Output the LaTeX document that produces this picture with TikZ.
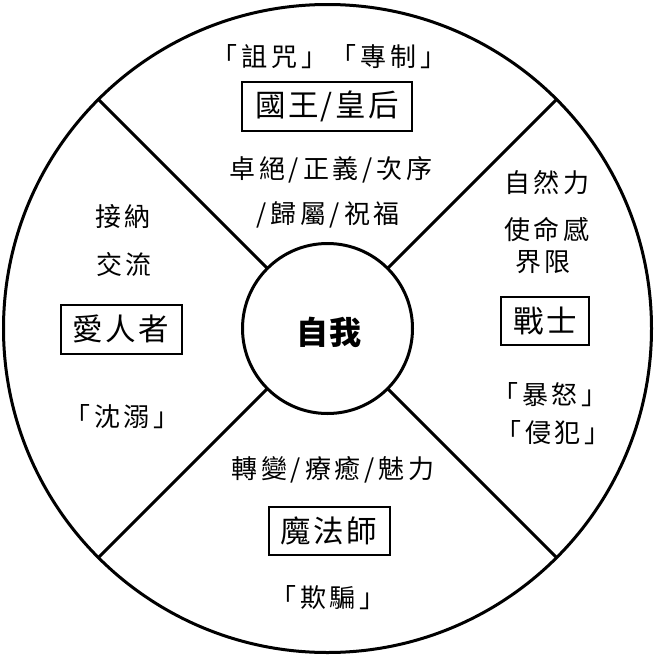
\documentclass[tikz,border=0pt]{standalone}
\usepackage{fontspec}
\setmainfont{Noto Sans CJK TC}
\newfontfamily\smallcjk[LetterSpace=15]{Noto Sans CJK TC}
\newfontfamily\boxcjk[LetterSpace=8]{Noto Sans CJK TC}
\newfontfamily\centercjk[LetterSpace=4]{Noto Sans CJK TC}
\begin{document}
\begin{tikzpicture}[x=1pt,y=-1pt,
  ring/.style={draw,circle,line width=3pt,outer sep=0pt,inner sep=0pt},
  spoke/.style={line width=3pt},
  lbl/.style={inner sep=0pt,font=\smallcjk\fontsize{26}{30}\selectfont},
  rolebox/.style={draw,line width=2pt,inner sep=0pt,font=\boxcjk\fontsize{30.5}{34}\selectfont},
  selflbl/.style={inner sep=0pt,font=\centercjk\bfseries\fontsize{32}{36}\selectfont}]
\useasboundingbox (0,0) rectangle (656,656);
\node[ring,minimum size=648pt] (outer) at (327.5,328.5) {};
\node[ring,minimum size=170pt] (self) at (327.5,328.5) {};
\node[selflbl] (selft) at (329,332) {自我};
\draw[spoke] (self.45) -- (outer.45);
\draw[spoke] (self.135) -- (outer.135);
\draw[spoke] (self.225) -- (outer.225);
\draw[spoke] (self.315) -- (outer.315);
% top
\node[lbl] (t1) at (329,57) {「詛咒」「專制」};
\node[rolebox,minimum width=170pt,minimum height=49pt] (king) at (327,106) {國王/皇后};
\node[lbl] (t2) at (331,170) {卓絕/正義/次序};
\node[lbl] (t3) at (328,215) {/歸屬/祝福};
% right
\node[lbl] (r1) at (547,183) {自然力};
\node[lbl] (r2) at (547,230) {使命感};
\node[lbl] (r3) at (543,262) {界限};
\node[rolebox,minimum width=88pt,minimum height=48pt] (warrior) at (545,321) {戰士};
\node[lbl] (r4) at (550,395) {「暴怒」};
\node[lbl] (r5) at (553,433) {「侵犯」};
% left
\node[lbl] (l1) at (123,217) {接納};
\node[lbl] (l2) at (124,265) {交流};
\node[rolebox,minimum width=121pt,minimum height=49pt] (lover) at (121,329) {愛人者};
\node[lbl] (l3) at (122,417) {「沈溺」};
% bottom
\node[lbl] (b1) at (333,470) {轉變/療癒/魅力};
\node[rolebox,minimum width=121pt,minimum height=48pt] (magician) at (329,531) {魔法師};
\node[lbl] (b2) at (328,598) {「欺騙」};
\end{tikzpicture}
\end{document}
